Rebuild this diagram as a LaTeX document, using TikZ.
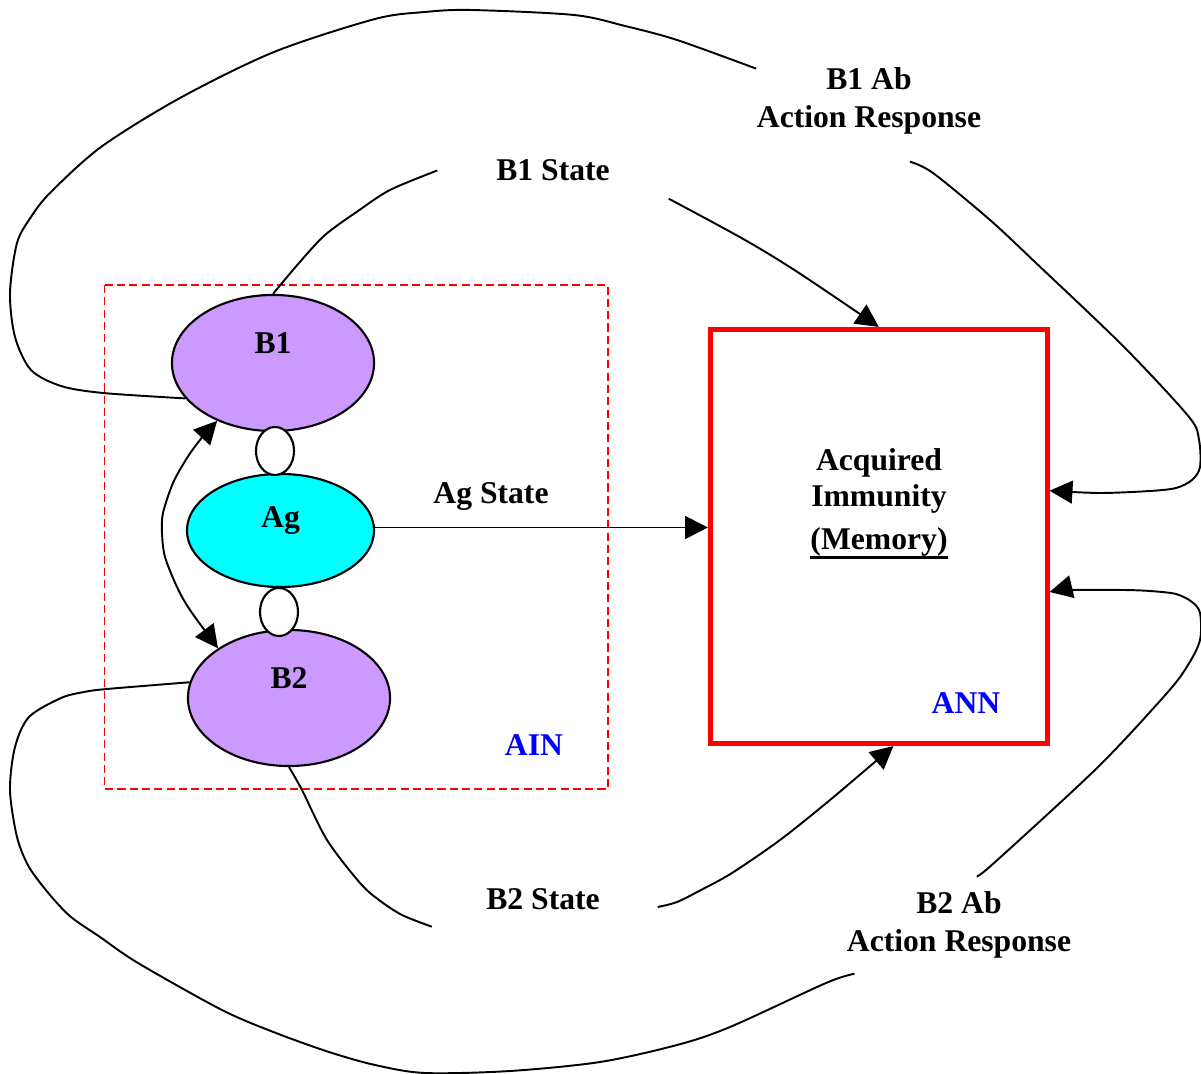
\documentclass[tikz,border=0pt]{standalone}
\usepackage{fontspec}
\setmainfont{Liberation Serif}
\usetikzlibrary{arrows.meta,shapes.geometric}
\definecolor{bcolor}{HTML}{CC99FF}
\definecolor{agcolor}{HTML}{00FFFF}
\newcommand\memline[1]{\setbox0\hbox{#1}\rlap{\rule[-2.8pt]{\wd0}{0.9pt}}\box0}

\begin{document}
\begin{tikzpicture}[x=0.01cm,y=-0.01cm,
        font=\fontsize{9}{11}\selectfont\bfseries,
        cell/.style={ellipse,draw,line width=0.6pt,inner sep=0pt},
        bcell/.style={cell,fill=bcolor,minimum width=2.02cm,minimum height=1.36cm},
        link/.style={cell,fill=white,minimum width=0.38cm,minimum height=0.48cm},
        tag/.style={inner sep=0pt,align=center},
        net/.style={text=blue},
        wire/.style={line width=0.55pt},
        arr/.style={wire,-{Triangle[length=6.5pt,width=6.5pt]}},
        darr/.style={wire,{Triangle[length=6.5pt,width=6.5pt]}-{Triangle[length=6.5pt,width=6.5pt]}}]
        \useasboundingbox (0,0) rectangle (1201,1074);

        \draw[red,line width=0.55pt,dash pattern=on 2.3pt off 1.2pt] (104.5,285) rectangle (607.7,789);
        \node[net](ain)at(534,745){AIN};

        \node[bcell](b1)at(273,363){};
        \node[cell,fill=agcolor,minimum width=1.87cm,minimum height=1.13cm](ag)at(280.5,530.5){};
        \node[bcell](b2)at(289,698){};
        \node[link](l1)at(275,451){};
        \node[link](l2)at(279,612){};
        \node(b1t)at([yshift=2mm]b1.center){B1};
        \node(agt)at([yshift=1mm]ag.center){Ag};
        \node(b2t)at([yshift=2mm]b2.center){B2};

        \node[draw=red,line width=1.4pt,minimum width=3.365cm,minimum height=4.14cm,inner sep=0pt](ann)at(878.75,536.5){};
        \node[tag,anchor=north,font=\fontsize{9}{10.3}\selectfont\bfseries](mem)at(879,448){Acquired\\Immunity\\[1.8pt]\memline{(Memory)}};
        \node[net](annt)at(966,703){ANN};

        \node[tag,minimum width=2.30cm,minimum height=0.55cm](b1st)at(553,170.5){B1 State};
        \node[tag,minimum height=1.20cm](b1ab)at(869,101){B1 Ab\\Action Response};
        \node[tag](ags)at(491,497){Ag State};
        \node[tag,minimum width=2.28cm,minimum height=0.54cm](b2st)at(543,899){B2 State};
        \node[tag,minimum height=0.96cm](b2ab)at(959,925){B2 Ab\\Action Response};

        \draw[darr] plot[smooth] coordinates {(b1.226) (200,440) (187,458) (173,483) (163,513) (162,533) (165,557) (177,587) (190,610) (b2.145)};
        \draw[arr] ([yshift=0.3mm]ag.east) -- ([yshift=0.3mm]ag.east -| ann.west);

        \draw[wire] plot[smooth] coordinates {(b1.north) (299,263) (325,235) (358,211) (390,190) (b1st.west)};
        \draw[arr] plot[smooth] coordinates {(b1st.south east) (745,240) (799,273) (ann.north)};
        \draw[wire] plot[smooth] coordinates {(b2.south) (302,790) (327,840) (360,883) (379,900) (402,915) (b2st.194)};
        \draw[arr] plot[smooth] coordinates {(b2st.356) (677,902) (701,890) (732,873) (780,840) (830,800) (ann.274)};

        \draw[wire] plot[smooth,tension=0.5] coordinates {(b1.202) (103,393) (61,386) (31,370) (15,337) (10,293) (17,243) (31,217) (50,193) (101,147) (180,98) (274,52) (375,19) (425,12) (471,10) (574,15) (625,26) (677,40) (b1ab.164)};
        \draw[arr] plot[smooth,tension=0.5] coordinates {(b1ab.304) (933,173) (990,220) (1036,263) (1124,347) (1189,417) (1199,440) (1200,467) (1192,480) (1176,488) (1150,491) (1100,493) (ann.15)};
        \draw[wire] plot[smooth,tension=0.5] coordinates {(b2.171) (107,689) (84,692) (61,698) (29,717) (15,747) (10,790) (17,837) (29,867) (50,895) (71,917) (100,937) (138,963) (222,1010) (276,1033) (329,1052) (375,1065) (425,1073) (510,1071) (600,1062) (677,1045) (730,1027) (826,983) (b2ab.205)};
        \draw[arr] plot[smooth,tension=0.5] coordinates {(b2ab.70) (994,863) (1098,767) (1167,693) (1188,665) (1200,640) (1200,613) (1192,602) (1176,594) (1150,591) (1123,590) (1067,590) (ann.342)};
    \end{tikzpicture}
\end{document}
